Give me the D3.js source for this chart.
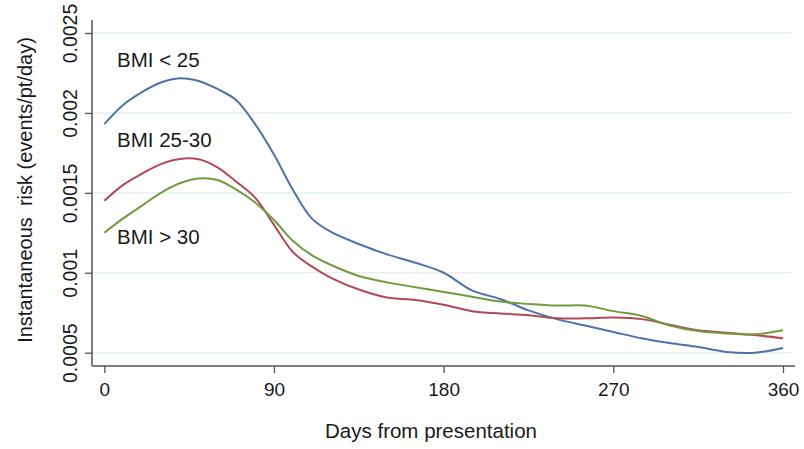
<!DOCTYPE html>
<html>
<head>
<meta charset="utf-8">
<script src="https://cdn.jsdelivr.net/npm/d3@7"></script>
<style>
  body { margin: 0; background: #fff; }
  text { font-family: "Liberation Sans", Arial, sans-serif; fill: #1a1a1a; }
</style>
</head>
<body>
<div id="chart"></div>
<script>
// data
const days = [0, 10, 20, 30, 40, 50, 60, 70, 80, 90, 100, 110, 120, 135, 150, 165, 180, 195, 210, 225, 240, 255, 270, 285, 300, 315, 330, 345, 360]
const bmiUnder25 = [0.00193, 0.00205, 0.00213, 0.00219, 0.002217, 0.0022, 0.00215, 0.00208, 0.00193, 0.00174, 0.00152, 0.00134, 0.001257, 0.00118, 0.001115, 0.001063, 0.001, 0.00089, 0.000836, 0.000765, 0.00071, 0.00067, 0.00063, 0.00059, 0.00056, 0.000535, 0.000505, 0.0005, 0.00053]
const bmi25to30 = [0.00145, 0.00155, 0.00162, 0.00168, 0.001712, 0.00171, 0.00166, 0.00157, 0.00147, 0.0013, 0.00113, 0.00104, 0.00097, 0.000895, 0.000845, 0.00083, 0.0008, 0.00076, 0.000745, 0.000735, 0.000715, 0.000715, 0.00072, 0.00071, 0.000675, 0.00064, 0.000625, 0.00061, 0.00059]
const bmiOver30 = [0.00125, 0.00134, 0.00142, 0.0015, 0.00156, 0.00159, 0.00158, 0.00152, 0.00144, 0.00133, 0.0012, 0.00111, 0.00105, 0.00098, 0.00094, 0.00091, 0.00088, 0.00085, 0.00082, 0.000805, 0.000795, 0.000795, 0.00076, 0.00073, 0.00067, 0.000635, 0.00062, 0.000615, 0.00064]
const seriesNames = ["BMI < 25", "BMI 25-30", "BMI > 30"]
const seriesColors = ["#4d73a9", "#b04a58", "#739a3e"]
const xTicks = [0, 90, 180, 270, 360]
const yTicks = [0.0005, 0.001, 0.0015, 0.002, 0.0025]

const w = 804
const h = 449
const axisX = 92
const axisY = 366

const svg = d3.select("#chart")
    .append("svg")
    .attr("width", w)
    .attr("height", h)

svg.append("rect").attr("width", w).attr("height", h).attr("fill", "#fff")

const x = d3.scaleLinear()
    .domain([0, 360])
    .range([104.3, 783])
const y = d3.scaleLinear()
    .domain([0.0005, 0.0025])
    .range([352.7, 33])

// grid
svg.append("g")
    .selectAll("line")
    .data(yTicks)
    .enter().append("line")
    .attr("x1", axisX)
    .attr("x2", 793)
    .attr("y1", d => y(d))
    .attr("y2", d => y(d))
    .attr("stroke", "#e6eff2")
    .attr("stroke-width", 1.5)

// y axis
const yAxis = svg.append("g")
    .attr("transform", `translate(${axisX},0)`)
    .call(d3.axisLeft(y).tickValues(yTicks).tickFormat(d => String(+d.toFixed(4))).tickSize(7).tickSizeOuter(0))
yAxis.select(".domain").remove()
yAxis.selectAll("line").attr("stroke", "#555").attr("stroke-width", 1.3)
yAxis.selectAll("text")
    .attr("transform", "rotate(-90)")
    .attr("x", 0)
    .attr("y", -22)
    .attr("dy", "0.35em")
    .attr("text-anchor", "middle")
    .attr("font-size", "19.5px")
    .attr("font-family", "Liberation Sans, Arial, sans-serif")
    .attr("fill", "#1a1a1a")

// x axis
const xAxis = svg.append("g")
    .attr("transform", `translate(0,${axisY})`)
    .call(d3.axisBottom(x).tickValues(xTicks).tickSize(7).tickPadding(10).tickSizeOuter(0))
xAxis.select(".domain").remove()
xAxis.selectAll("line").attr("stroke", "#555").attr("stroke-width", 1.3)
xAxis.selectAll("text")
    .attr("font-size", "19px")
    .attr("font-family", "Liberation Sans, Arial, sans-serif")
    .attr("fill", "#1a1a1a")

// axis lines
svg.append("line")
    .attr("x1", axisX).attr("x2", axisX)
    .attr("y1", 20).attr("y2", axisY)
    .attr("stroke", "#555").attr("stroke-width", 1.5)
svg.append("line")
    .attr("x1", axisX).attr("x2", 795)
    .attr("y1", axisY).attr("y2", axisY)
    .attr("stroke", "#555").attr("stroke-width", 1.5)

// curves
const series = [bmiUnder25, bmi25to30, bmiOver30]
const line = d3.line()
    .x((d, i) => x(days[i]))
    .y(d => y(d))
    .curve(d3.curveCatmullRom.alpha(0.5))

svg.append("g")
    .selectAll("path")
    .data(series)
    .enter().append("path")
    .attr("d", d => line(d))
    .attr("fill", "none")
    .attr("stroke", (d, i) => seriesColors[i])
    .attr("stroke-width", 2)

// curve labels
const labelY = [60, 140, 237]
svg.append("g")
    .selectAll("text")
    .data(seriesNames)
    .enter().append("text")
    .attr("x", 117)
    .attr("y", (d, i) => labelY[i])
    .attr("dy", "0.35em")
    .attr("font-size", "20.5px")
    .text(d => d)

// axis titles
svg.append("text")
    .attr("transform", "translate(25,190) rotate(-90)")
    .attr("text-anchor", "middle")
    .attr("dy", "0.35em")
    .attr("font-size", "20px")
    .style("white-space", "pre")
    .text("Instantaneous  risk (events/pt/day)")

svg.append("text")
    .attr("x", 431)
    .attr("y", 431)
    .attr("text-anchor", "middle")
    .attr("dy", "0.35em")
    .attr("font-size", "20.5px")
    .text("Days from presentation")
</script>
</body>
</html>
